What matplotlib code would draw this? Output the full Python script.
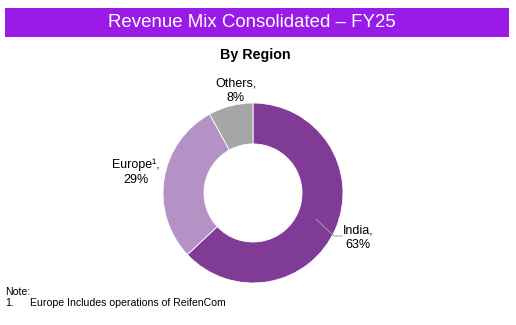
import matplotlib.pyplot as plt
from matplotlib.patches import Rectangle

plt.rcParams['font.family'] = ['Liberation Sans', 'DejaVu Sans']

regions = ['India', 'Europe', 'Others']
shares = [63, 29, 8]
colors = ['#7f3b95', '#b492c6', '#a6a6a6']
title = 'Revenue Mix Consolidated \u2013 FY25'
subtitle = 'By Region'

W, H = 516, 325
fig = plt.figure(figsize=(W / 100, H / 100), dpi=100)
ax = fig.add_axes([0, 0, 1, 1])

# donut, pixel coords (y up)
cx, cy, r = 253, 132, 90
ax.pie(shares, colors=colors, startangle=90, counterclock=False,
       center=(cx, cy), radius=r,
       wedgeprops=dict(width=r * 0.455, edgecolor='white', linewidth=0.6))

ax.set_xlim(0, W)
ax.set_ylim(0, H)
ax.set_aspect('equal')
ax.axis('off')

# header bar
ax.add_patch(Rectangle((5, 288), 504, 29, facecolor='#9a1ae8', edgecolor='none'))
ax.text(252, 302.5, title, color='white', fontsize=13.4, ha='center', va='center')
ax.text(255, 270, subtitle, fontsize=10.3, fontweight='bold', ha='center', va='center')

# labels
lab = dict(fontsize=9, ha='center', va='center', linespacing=1.3)
ax.text(236, 234, 'Others,\n8%', **lab)
ax.text(136, 153, 'Europe\u00b9,\n29%', **lab)
ax.text(358, 87, 'India,\n63%', **lab)
ax.plot([316, 334, 342], [106, 89, 89], color='#a0a0a0', lw=0.7)

# note
ax.text(5, 33, 'Note:', fontsize=7.6, ha='left', va='center')
ax.text(5, 22, '1.', fontsize=7.6, ha='left', va='center')
ax.text(30, 22, 'Europe Includes operations of ReifenCom', fontsize=7.6, ha='left', va='center')

fig.savefig('out.png', dpi=100)
